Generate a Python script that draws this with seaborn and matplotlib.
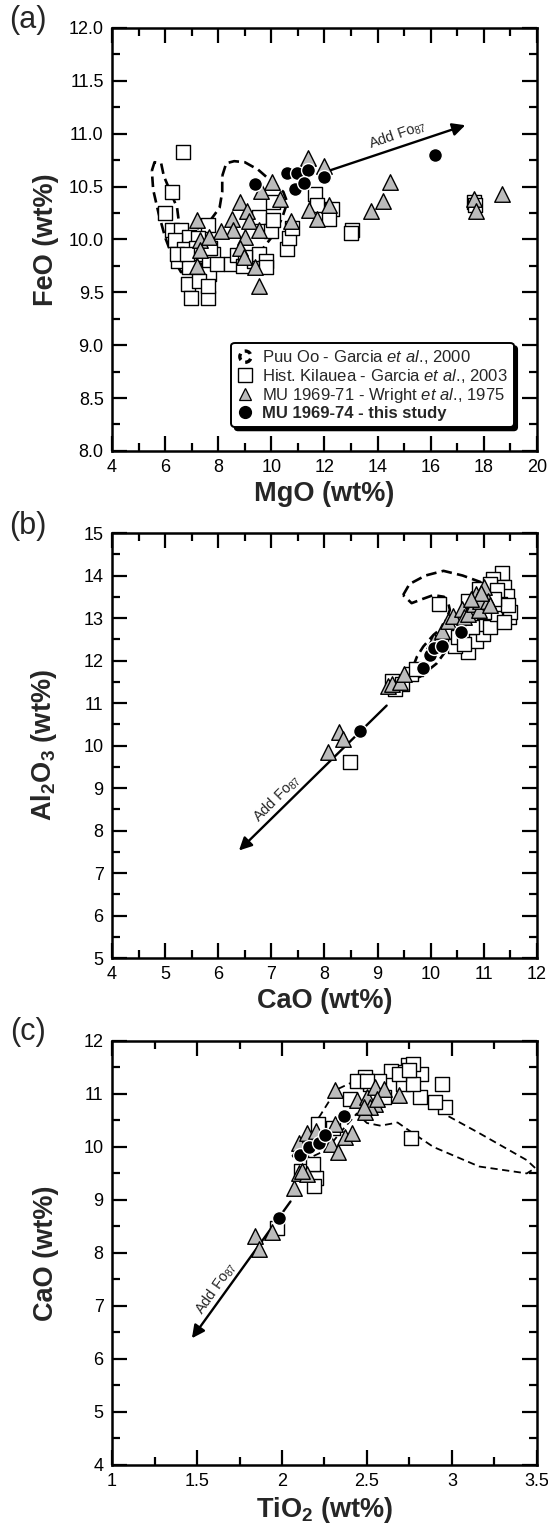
import numpy as np
import pandas as pd
import matplotlib
matplotlib.use('Agg')
import matplotlib.pyplot as plt
import matplotlib.patches as mpatches
from matplotlib.lines import Line2D
from matplotlib.legend_handler import HandlerPatch
from matplotlib.ticker import MultipleLocator, FormatStrFormatter
import seaborn as sns

sns.set_style('ticks')
plt.rcParams['font.family'] = ['Liberation Sans', 'DejaVu Sans']
plt.rcParams['mathtext.fontset'] = 'custom'
plt.rcParams['mathtext.rm'] = 'Liberation Sans'
plt.rcParams['mathtext.it'] = 'Liberation Sans:italic'
plt.rcParams['mathtext.bf'] = 'Liberation Sans:bold'

# ---------------- panel (a): MgO vs FeO ----------------
a_sq_mgo = [6.67, 6.24, 6.01, 6.24, 6.61, 7.6, 6.9, 7.23, 6.37, 6.7, 6.5, 7.03, 7.42, 7.82, 7.65,
            6.9, 7.66, 6.86, 7.29, 6.96, 7.6, 7.6, 7.95, 8.48, 8.7, 8.94, 9.33, 9.53, 9.79, 9.53,
            9.99, 10.06, 10.06, 10.59, 10.65, 10.78, 11.64, 11.7, 12.3, 12.16, 13.02, 12.99, 17.63,
            17.66, 7.16, 7.69, 6.44, 6.83, 9.0, 9.79]
a_sq_feo = [10.83, 10.45, 10.25, 10.09, 10.09, 10.14, 10.02, 10.01, 9.99, 9.91, 9.8, 9.82, 9.86, 9.86, 9.77,
            9.74, 9.67, 9.58, 9.61, 9.45, 9.45, 9.56, 9.77, 9.77, 9.85, 9.75, 9.8, 9.86, 9.8, 10.21,
            10.08, 10.35, 10.18, 9.91, 10.01, 10.11, 10.43, 10.33, 10.29, 10.19, 10.09, 10.06, 10.35,
            10.33, 9.92, 9.92, 9.86, 9.86, 9.83, 9.74]
a_tri_mgo = [11.38, 11.97, 10.03, 9.6, 10.32, 11.42, 11.73, 12.17, 10.72, 14.47, 14.21, 13.75, 17.64,
             17.7, 18.69, 8.81, 9.07, 8.52, 8.55, 8.11, 9.16, 9.53, 9.0, 8.81, 8.98, 9.4, 9.53, 7.2,
             7.33, 7.32, 7.65, 7.2]
a_tri_feo = [10.77, 10.69, 10.54, 10.46, 10.38, 10.28, 10.19, 10.33, 10.17, 10.54, 10.36, 10.27, 10.38,
             10.27, 10.43, 10.35, 10.27, 10.19, 10.09, 10.08, 10.17, 10.09, 10.02, 9.92, 9.83, 9.74, 9.56,
             10.18, 9.99, 9.9, 10.02, 9.75]
a_dot_mgo = [9.38, 10.57, 10.95, 11.39, 10.89, 11.24, 11.98, 16.15]
a_dot_feo = [10.52, 10.63, 10.63, 10.66, 10.48, 10.53, 10.59, 10.8]
a_puu1_mgo = [5.5, 5.6, 5.85, 5.95, 6.2, 6.45, 6.55, 6.6, 6.8, 6.6, 6.3, 6.0, 5.75, 5.55, 5.5]
a_puu1_feo = [10.65, 10.73, 10.72, 10.6, 10.45, 10.3, 10.1, 9.9, 9.72, 9.69, 9.82, 10.02, 10.25, 10.47, 10.65]
a_puu2_mgo = [8.15, 8.3, 8.6, 9.0, 9.5, 10.0, 10.45, 10.6, 10.4, 10.1, 9.7, 9.2, 8.7, 8.2, 7.6, 7.2,
              7.0, 7.2, 7.7, 8.05, 8.15, 8.15]
a_puu2_feo = [10.6, 10.72, 10.74, 10.73, 10.66, 10.55, 10.45, 10.35, 10.2, 10.05, 9.92, 9.8, 9.74, 9.72,
              9.72, 9.8, 9.95, 10.1, 10.18, 10.3, 10.45, 10.6]
a_arrow = [(12.17, 10.65), (17.3, 11.08)]

# ---------------- panel (b): CaO vs Al2O3 ----------------
b_sq_cao = [8.48, 10.16, 10.71, 10.45, 10.85, 10.98, 10.91, 11.11, 11.24, 11.34, 11.17, 11.37, 11.44,
            11.47, 11.5, 11.31, 11.11, 10.91, 10.71, 9.27, 9.46, 9.32, 9.62, 9.72, 11.11, 11.24, 11.0,
            11.37, 10.78, 10.51, 11.45, 10.62, 11.2]
b_sq_al = [9.61, 13.32, 12.2, 12.35, 12.47, 12.63, 12.87, 12.79, 13.1, 14.06, 13.92, 13.73, 13.53,
           13.02, 13.14, 13.34, 13.53, 13.69, 13.41, 11.53, 11.45, 11.33, 11.69, 11.81, 13.8, 13.65, 13.14,
           12.9, 12.79, 12.55, 13.3, 12.4, 13.45]
b_tri_cao = [8.06, 8.28, 8.35, 9.2, 9.27, 9.43, 9.5, 10.06, 10.16, 10.22, 10.32, 10.42, 10.58, 10.62,
             10.71, 10.81, 10.85, 10.9, 10.93, 11.0, 11.08, 11.11, 10.95, 10.75]
b_tri_al = [9.84, 10.31, 10.16, 11.4, 11.45, 11.49, 11.69, 12.47, 12.51, 12.69, 12.93, 13.04, 13.22, 13.02,
            13.1, 13.34, 13.57, 13.18, 13.41, 13.73, 13.41, 13.3, 13.6, 13.45]
b_dot_cao = [8.66, 9.85, 9.98, 10.07, 10.21, 10.57]
b_dot_al = [10.34, 11.83, 12.13, 12.29, 12.35, 12.67]
b_puu_cao = [9.48, 9.6, 9.9, 10.24, 10.6, 10.93, 11.1, 11.0, 10.7, 10.4, 10.3, 10.11, 9.8, 9.6, 9.65,
             9.74, 9.86, 10.05, 10.24, 10.36, 10.33, 10.25, 10.05, 9.85, 9.64, 9.48]
b_puu_al = [13.54, 13.8, 14.0, 14.11, 14.0, 13.85, 13.6, 13.3, 12.8, 12.4, 12.25, 11.93, 11.62, 11.54, 11.8,
            12.09, 12.33, 12.6, 12.8, 13.19, 13.35, 13.5, 13.54, 13.45, 13.35, 13.54]
b_arrow = [(9.17, 10.94), (6.39, 7.53)]

# ---------------- panel (c): TiO2 vs CaO ----------------
c_sq_ti = [2.76, 2.94, 2.96, 2.9, 2.81, 2.82, 2.74, 2.71, 2.64, 2.71, 2.49, 2.52, 2.44, 2.4, 2.6, 2.2,
           2.19, 2.11, 2.18, 2.21, 1.97, 2.77, 2.69, 2.57, 2.77, 2.5, 2.3, 2.75]
c_sq_cao = [10.17, 11.19, 10.75, 10.85, 10.94, 11.38, 11.54, 11.41, 11.44, 11.19, 11.32, 11.19, 11.25, 10.9,
            10.94, 9.42, 9.26, 9.55, 9.67, 10.43, 8.47, 11.19, 11.38, 11.25, 11.57, 11.25, 10.35, 11.45]
c_tri_ti = [1.84, 1.864, 1.94, 2.07, 2.1, 2.15, 2.12, 2.1, 2.15, 2.31, 2.29, 2.33, 2.37, 2.41, 2.31, 2.44,
            2.5, 2.49, 2.55, 2.6, 2.55, 2.69, 2.52, 2.2, 2.56, 2.48]
c_tri_cao = [8.32, 8.08, 8.39, 9.23, 9.5, 9.48, 9.55, 10.08, 10.27, 11.08, 10.05, 9.9, 10.18, 10.27, 10.43,
             10.88, 10.95, 10.66, 11.13, 11.1, 10.81, 10.97, 10.75, 10.3, 10.9, 10.75]
c_dot_ti = [1.98, 2.107, 2.156, 2.218, 2.255, 2.364]
c_dot_cao = [8.65, 9.85, 9.99, 10.07, 10.22, 10.58]
c_puu_ti = [2.06, 2.14, 2.22, 2.32, 2.44, 2.6, 2.75, 2.85, 2.91, 3.16, 3.44, 3.49, 3.44, 3.16, 2.89, 2.77,
            2.68, 2.58, 2.5, 2.44, 2.35, 2.26, 2.18, 2.06]
c_puu_cao = [9.82, 10.2, 10.57, 11.08, 11.26, 11.35, 11.3, 10.95, 10.7, 10.26, 9.75, 9.6, 9.5, 9.63, 10.0,
             10.26, 10.46, 10.4, 10.45, 10.63, 10.3, 9.94, 9.82, 9.82]
c_arrow = [(2.05, 8.97), (1.47, 6.39)]

tri_grey = '#bcbcbc'


def draw_points(ax, sq_x, sq_y, tri_x, tri_y, dot_x, dot_y):
    df_sq = pd.DataFrame({'x': sq_x, 'y': sq_y})
    df_tri = pd.DataFrame({'x': tri_x, 'y': tri_y})
    df_dot = pd.DataFrame({'x': dot_x, 'y': dot_y})
    sns.scatterplot(data=df_sq, x='x', y='y', ax=ax, marker='s', s=105, color='white',
                    edgecolor='black', linewidth=1.0, zorder=3)
    sns.scatterplot(data=df_tri, x='x', y='y', ax=ax, marker='^', s=125, color=tri_grey,
                    edgecolor='black', linewidth=1.0, zorder=4)
    sns.scatterplot(data=df_dot, x='x', y='y', ax=ax, marker='o', s=100, color='black',
                    edgecolor='white', linewidth=1.0, zorder=5)


def draw_arrow(ax, arrow, label, lx, ly, rot):
    ax.annotate('', xy=arrow[1], xytext=arrow[0], zorder=2.5,
                arrowprops=dict(arrowstyle='-|>', color='black', lw=1.7,
                                mutation_scale=19, shrinkA=0, shrinkB=0))
    ax.text(lx, ly, label, rotation=rot, rotation_mode='anchor', ha='center', va='center',
            fontsize=10.5, zorder=6)


def style_axes(ax, xlim, ylim, xmaj, xmin, ymaj, ymin, xfmt, yfmt):
    ax.set_xlim(*xlim)
    ax.set_ylim(*ylim)
    ax.xaxis.set_major_locator(MultipleLocator(xmaj))
    ax.xaxis.set_minor_locator(MultipleLocator(xmin))
    ax.yaxis.set_major_locator(MultipleLocator(ymaj))
    ax.yaxis.set_minor_locator(MultipleLocator(ymin))
    ax.xaxis.set_major_formatter(FormatStrFormatter(xfmt))
    ax.yaxis.set_major_formatter(FormatStrFormatter(yfmt))
    ax.tick_params(which='both', direction='in', top=True, right=True, width=1.6,
                   colors='black', labelsize=13, pad=6)
    ax.tick_params(which='major', length=11)
    ax.tick_params(which='minor', length=6)
    for sp in ax.spines.values():
        sp.set_linewidth(1.8)
        sp.set_color('black')
    ax.xaxis.set_label_coords(0.5, -0.07)
    ax.yaxis.set_label_coords(-0.125, 0.5)


fig = plt.figure(figsize=(5.48, 15.26), dpi=100)
ax_a = fig.add_axes([0.2044, 0.7045, 0.7755, 0.2772])
ax_b = fig.add_axes([0.2044, 0.3722, 0.7755, 0.2785])
ax_c = fig.add_axes([0.2044, 0.0400, 0.7755, 0.2779])

dash_thick = dict(color='black', lw=1.9, ls=(0, (4, 2)), zorder=2)
dash_thin = dict(color='black', lw=1.3, ls=(0, (4, 2.5)), zorder=2)

# (a)
ax_a.plot(a_puu1_mgo, a_puu1_feo, **dash_thick)
ax_a.plot(a_puu2_mgo, a_puu2_feo, **dash_thick)
draw_points(ax_a, a_sq_mgo, a_sq_feo, a_tri_mgo, a_tri_feo, a_dot_mgo, a_dot_feo)
draw_arrow(ax_a, a_arrow, r'Add Fo$_{87}$', 14.75, 10.99, 19)
style_axes(ax_a, (4, 20), (8, 12), 2, 1, 0.5, 0.25, '%d', '%.1f')
ax_a.set_xlabel('MgO (wt%)', fontsize=19.5, fontweight='bold')
ax_a.set_ylabel('FeO (wt%)', fontsize=19.5, fontweight='bold')

h_puu = mpatches.Circle((0, 0), radius=1, facecolor='none', edgecolor='black',
                        linestyle=(0, (2.0, 1.5)), linewidth=2.4)


def circle_patch(legend, orig_handle, xdescent, ydescent, width, height, fontsize):
    return mpatches.Circle((width / 2 - xdescent, height / 2 - ydescent), radius=height * 0.48)


h_sq = Line2D([], [], marker='s', ls='none', markerfacecolor='white', markeredgecolor='black',
              markersize=10, markeredgewidth=1.0)
h_tri = Line2D([], [], marker='^', ls='none', markerfacecolor=tri_grey, markeredgecolor='black',
               markersize=8.5, markeredgewidth=0.9)
h_dot = Line2D([], [], marker='o', ls='none', markerfacecolor='black', markeredgecolor='black',
               markersize=8.5)
labels = [r'Puu Oo - Garcia $\mathit{et\ al.}\!\mathrm{,}$ 2000',
          r'Hist. Kilauea - Garcia $\mathit{et\ al.}\!\mathrm{,}$ 2003',
          r'MU 1969-71 - Wright $\mathit{et\ al.}\!\mathrm{,}$ 1975',
          'MU 1969-74 - this study']
leg = ax_a.legend([h_puu, h_sq, h_tri, h_dot], labels,
                  handler_map={mpatches.Circle: HandlerPatch(patch_func=circle_patch)},
                  loc='lower right', bbox_to_anchor=(0.945, 0.057), borderaxespad=0,
                  fontsize=12, frameon=True, fancybox=True, framealpha=1,
                  shadow={'ox': 2.5, 'oy': -2.5, 'facecolor': 'black', 'edgecolor': 'black', 'alpha': 1},
                  handlelength=1.0, handletextpad=0.5, labelspacing=0.05, borderpad=0.35)
leg.get_frame().set_edgecolor('black')
leg.get_frame().set_linewidth(1.4)
leg.get_texts()[-1].set_fontweight('bold')
leg.set_zorder(10)

# (b)
ax_b.plot(b_puu_cao, b_puu_al, **dash_thick)
draw_points(ax_b, b_sq_cao, b_sq_al, b_tri_cao, b_tri_al, b_dot_cao, b_dot_al)
draw_arrow(ax_b, b_arrow, r'Add Fo$_{87}$', 7.1, 8.75, 45)
style_axes(ax_b, (4, 12), (5, 15), 1, 0.5, 1, 0.5, '%d', '%d')
ax_b.set_xlabel('CaO (wt%)', fontsize=19.5, fontweight='bold')
ax_b.set_ylabel(r'Al$_\mathbf{2}$O$_\mathbf{3}$ (wt%)', fontsize=19.5, fontweight='bold')

# (c)
ax_c.plot(c_puu_ti, c_puu_cao, **dash_thin)
draw_points(ax_c, c_sq_ti, c_sq_cao, c_tri_ti, c_tri_cao, c_dot_ti, c_dot_cao)
draw_arrow(ax_c, c_arrow, r'Add Fo$_{87}$', 1.61, 7.33, 55)
style_axes(ax_c, (1, 3.5), (4, 12), 0.5, 0.25, 1, 0.5, '%g', '%d')
ax_c.set_xlabel(r'TiO$_\mathbf{2}$ (wt%)', fontsize=19.5, fontweight='bold')
ax_c.set_ylabel('CaO (wt%)', fontsize=19.5, fontweight='bold')

for ax in (ax_a, ax_b, ax_c):
    ax.set_facecolor('white')

fig.text(28 / 548, 1 - 20 / 1526, '(a)', fontsize=22, ha='center', va='center')
fig.text(28 / 548, 1 - 526 / 1526, '(b)', fontsize=22, ha='center', va='center')
fig.text(28 / 548, 1 - 1032 / 1526, '(c)', fontsize=22, ha='center', va='center')

fig.savefig('out.png', dpi=100, facecolor='white')
